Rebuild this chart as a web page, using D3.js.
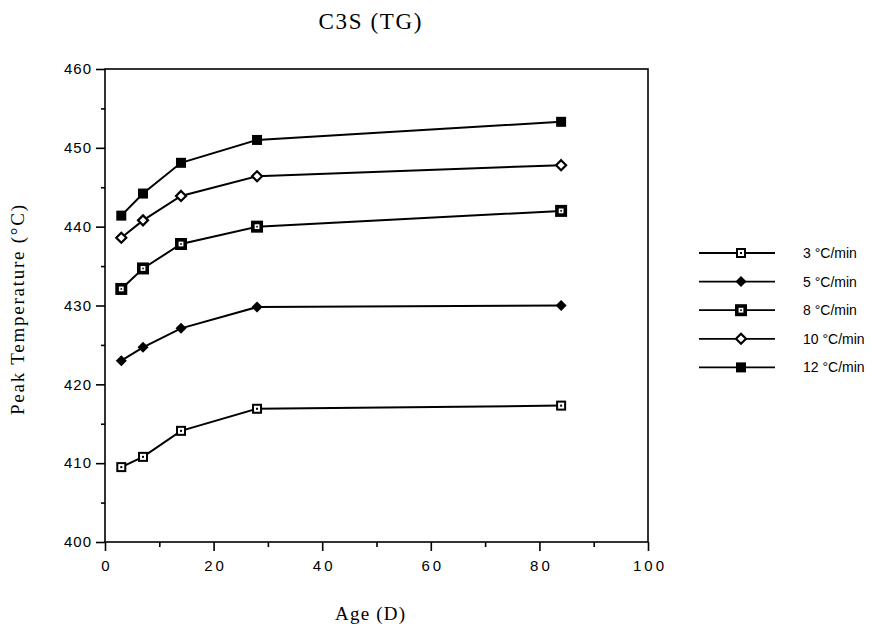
<!DOCTYPE html>
<html>
<head>
<meta charset="utf-8">
<script src="https://cdn.jsdelivr.net/npm/d3@7"></script>
<style>
  body { margin: 0; background: #fff; }
  svg { display: block; }
</style>
</head>
<body>
<div id="chart"></div>
<script>
// Ages in days and peak temperatures for each heating rate
var ages = [3, 7, 14, 28, 84];
var rate3 = [409.5, 410.8, 414.1, 416.9, 417.3];
var rate5 = [423.0, 424.7, 427.1, 429.8, 430.0];
var rate8 = [432.1, 434.7, 437.8, 440.0, 442.0];
var rate10 = [438.6, 440.8, 443.9, 446.4, 447.8];
var rate12 = [441.4, 444.2, 448.1, 451.0, 453.3];
var seriesNames = ["3 °C/min", "5 °C/min", "8 °C/min", "10 °C/min", "12 °C/min"];
var markerTypes = ["openSquare", "filledDiamond", "boldSquare", "openDiamond", "filledSquare"];
var xTicks = [0, 20, 40, 60, 80, 100];
var yTicks = [400, 410, 420, 430, 440, 450, 460];

document.addEventListener('DOMContentLoaded', function () {
    var W = 881, H = 628;
    var svg = d3.select("#chart").append("svg")
        .attr("width", W)
        .attr("height", H);

    var x = d3.scaleLinear().domain([0, 100]).range([105, 648]);
    var y = d3.scaleLinear().domain([400, 460]).range([542, 69]);

    var allSeries = [rate3, rate5, rate8, rate10, rate12];

    // frame
    svg.append("rect")
        .attr("x", x(0))
        .attr("y", y(460))
        .attr("width", x(100) - x(0))
        .attr("height", y(400) - y(460))
        .attr("fill", "none")
        .attr("stroke", "#000")
        .attr("stroke-width", 1.6);

    // minor ticks
    svg.append("g")
        .attr("transform", "translate(0," + y(400) + ")")
        .call(d3.axisBottom(x).tickValues([10, 30, 50, 70, 90]).tickSize(5).tickFormat(""))
        .call(function (g) { g.select(".domain").remove(); })
        .selectAll("line").attr("stroke-width", 1.6);

    svg.append("g")
        .attr("transform", "translate(" + x(0) + ",0)")
        .call(d3.axisLeft(y).tickValues([405, 415, 425, 435, 445, 455]).tickSize(4).tickFormat(""))
        .call(function (g) { g.select(".domain").remove(); })
        .selectAll("line").attr("stroke-width", 1.6);

    // major axes
    var xAxis = svg.append("g")
        .attr("transform", "translate(0," + y(400) + ")")
        .call(d3.axisBottom(x).tickValues(xTicks).tickSize(9).tickPadding(9).tickFormat(d3.format("d")));
    xAxis.select(".domain").remove();
    xAxis.selectAll("line").attr("stroke-width", 1.6);
    xAxis.selectAll("text")
        .style("font-family", "'Liberation Sans', Arial, sans-serif")
        .style("font-size", "15px")
        .style("letter-spacing", "3px")
        .attr("dx", "1.5px")
        .attr("fill", "#000");

    var yAxis = svg.append("g")
        .attr("transform", "translate(" + x(0) + ",0)")
        .call(d3.axisLeft(y).tickValues(yTicks).tickSize(9).tickPadding(4).tickFormat(d3.format("d")));
    yAxis.select(".domain").remove();
    yAxis.selectAll("line").attr("stroke-width", 1.6);
    yAxis.selectAll("text")
        .style("font-family", "'Liberation Sans', Arial, sans-serif")
        .style("font-size", "15px")
        .style("letter-spacing", "1px")
        .attr("fill", "#000");

    // marker drawing
    function drawMarker(g, type, cx, cy) {
        if (type == "openSquare") {
            g.append("rect").attr("x", cx - 4).attr("y", cy - 4).attr("width", 8).attr("height", 8)
                .attr("fill", "#fff").attr("stroke", "#000").attr("stroke-width", 2);
            g.append("rect").attr("x", cx - 1).attr("y", cy - 1).attr("width", 2).attr("height", 2).attr("fill", "#000");
        } else if (type == "boldSquare") {
            g.append("rect").attr("x", cx - 4.2).attr("y", cy - 4.2).attr("width", 8.4).attr("height", 8.4)
                .attr("fill", "#fff").attr("stroke", "#000").attr("stroke-width", 3.6);
            g.append("rect").attr("x", cx - 0.8).attr("y", cy - 0.8).attr("width", 1.6).attr("height", 1.6).attr("fill", "#000");
        } else if (type == "filledSquare") {
            g.append("rect").attr("x", cx - 5).attr("y", cy - 5).attr("width", 10).attr("height", 10)
                .attr("fill", "#000");
        } else if (type == "filledDiamond") {
            g.append("path")
                .attr("d", "M" + cx + "," + (cy - 5.5) + "L" + (cx + 5.5) + "," + cy + "L" + cx + "," + (cy + 5.5) + "L" + (cx - 5.5) + "," + cy + "Z")
                .attr("fill", "#000");
        } else if (type == "openDiamond") {
            g.append("path")
                .attr("d", "M" + cx + "," + (cy - 5) + "L" + (cx + 5) + "," + cy + "L" + cx + "," + (cy + 5) + "L" + (cx - 5) + "," + cy + "Z")
                .attr("fill", "#fff").attr("stroke", "#000").attr("stroke-width", 2.2);
        }
    }

    var line = d3.line()
        .x(function (d) { return x(d.age); })
        .y(function (d) { return y(d.temp); });

    allSeries.forEach(function (vals, i) {
        var pts = ages.map(function (a, j) { return { age: a, temp: vals[j] }; });
        svg.append("path")
            .datum(pts)
            .attr("d", line)
            .attr("fill", "none")
            .attr("stroke", "#000")
            .attr("stroke-width", 2);
        var mg = svg.append("g");
        pts.forEach(function (p) {
            drawMarker(mg, markerTypes[i], x(p.age), y(p.temp));
        });
    });

    // legend
    var legend = svg.append("g").attr("class", "legend");
    seriesNames.forEach(function (name, i) {
        var ly = 253 + i * 28.6;
        legend.append("line")
            .attr("x1", 699).attr("x2", 775)
            .attr("y1", ly).attr("y2", ly)
            .attr("stroke", "#000").attr("stroke-width", 1.8);
        drawMarker(legend, markerTypes[i], 741, ly);
        legend.append("text")
            .attr("x", 803)
            .attr("y", ly + 5)
            .style("font-family", "'Liberation Sans', Arial, sans-serif")
            .style("font-size", "14px")
            .text(name);
    });

    // titles
    svg.append("text")
        .attr("x", 370)
        .attr("y", 29)
        .attr("text-anchor", "middle")
        .style("font-family", "'Liberation Serif', 'Times New Roman', serif")
        .style("font-size", "23px")
        .attr("textLength", 103)
        .text("C3S (TG)");

    svg.append("text")
        .attr("x", 370)
        .attr("y", 620)
        .attr("text-anchor", "middle")
        .style("font-family", "'Liberation Serif', 'Times New Roman', serif")
        .style("font-size", "19px")
        .attr("textLength", 70)
        .text("Age (D)");

    svg.append("text")
        .attr("transform", "translate(24,310) rotate(-90)")
        .attr("text-anchor", "middle")
        .style("font-family", "'Liberation Serif', 'Times New Roman', serif")
        .style("font-size", "19px")
        .attr("textLength", 210)
        .text("Peak Temperature (°C)");
});
</script>
</body>
</html>
